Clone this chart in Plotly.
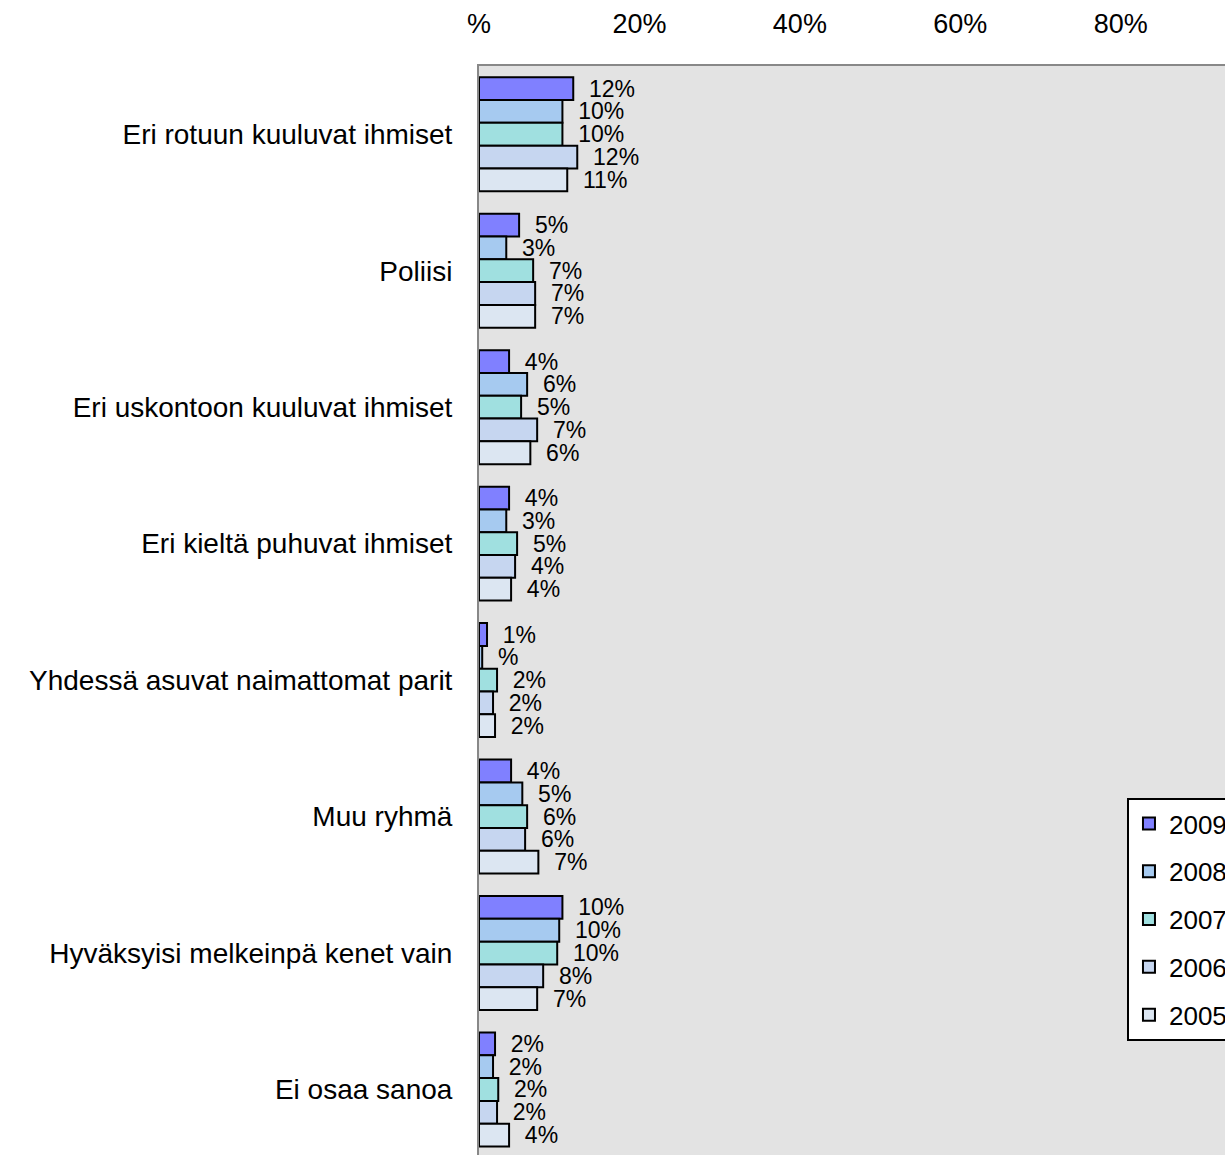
import plotly.graph_objects as go

categories = [
    "Eri rotuun kuuluvat ihmiset",
    "Poliisi",
    "Eri uskontoon kuuluvat ihmiset",
    "Eri kieltä puhuvat ihmiset",
    "Yhdessä asuvat naimattomat parit",
    "Muu ryhmä",
    "Hyväksyisi melkeinpä kenet vain",
    "Ei osaa sanoa",
]
years = ["2009", "2008", "2007", "2006", "2005"]
v2009 = [11.75, 5.0, 3.75, 3.75, 1.0, 4.0, 10.4, 2.0]
v2008 = [10.4, 3.4, 6.0, 3.4, 0.4, 5.4, 10.0, 1.75]
v2007 = [10.4, 6.75, 5.25, 4.75, 2.25, 6.0, 9.75, 2.4]
v2006 = [12.25, 7.0, 7.25, 4.5, 1.75, 5.75, 8.0, 2.25]
v2005 = [11.0, 7.0, 6.4, 4.0, 2.0, 7.4, 7.25, 3.75]
series = [v2009, v2008, v2007, v2006, v2005]
colors = ["#8080ff", "#a6caf0", "#a0e0e0", "#c6d6f0", "#dce6f2"]
tick_vals = [0, 20, 40, 60, 80, 100]
tick_text = ["%", "20%", "40%", "60%", "80%", "100%"]

FONT = "Arial, Liberation Sans, sans-serif"


def fmt(v):
    r = round(v)
    return f"{r}%" if r else "%"


fig = go.Figure()
for yr, vals, col in zip(years, series, colors):
    fig.add_trace(go.Bar(
        y=categories, x=vals, orientation="h", name=yr,
        marker=dict(color=col, line=dict(color="black", width=2)),
        text=["  " + fmt(v) for v in vals],
        textposition="outside", constraintext="none", cliponaxis=False,
        textfont=dict(family=FONT, size=23, color="black"),
        legendgroup=yr,
    ))

fig.update_layout(
    width=1225, height=1155,
    margin=dict(l=479, r=0, t=66, b=0, autoexpand=False),
    paper_bgcolor="white", plot_bgcolor="#e3e3e3",
    barmode="group", bargap=0.165, bargroupgap=0,
    font=dict(family=FONT, size=27, color="black"),
    showlegend=True,
    legend=dict(
        x=0.8686, xanchor="left", y=0.3278, yanchor="top",
        bgcolor="white", bordercolor="black", borderwidth=2,
        font=dict(family=FONT, size=26, color="black"),
        tracegroupgap=11, traceorder="grouped", itemwidth=30,
    ),
    xaxis=dict(
        side="top", range=[0, 93], tickvals=tick_vals, ticktext=tick_text,
        showgrid=False, zeroline=False, showline=True, linecolor="#888888",
        linewidth=2, ticks="", ticklabelstandoff=20,
        tickfont=dict(family=FONT, size=27, color="black"),
    ),
    yaxis=dict(
        type="category", range=[7.48, -0.5], showgrid=False, zeroline=False,
        showline=True, linecolor="#888888", linewidth=2, ticks="",
        ticklabelstandoff=19,
        tickfont=dict(family=FONT, size=28, color="black"),
    ),
)

fig.write_html(
    "out.html",
    config={"displayModeBar": False},
    post_script="document.body.style.margin='0';document.body.style.overflow='hidden';",
)
